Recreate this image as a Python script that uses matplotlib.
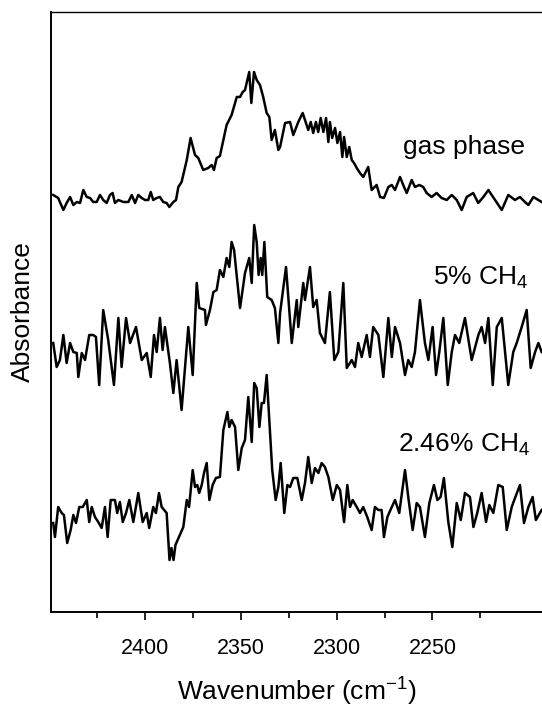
import matplotlib
matplotlib.use("Agg")
import numpy as np
import matplotlib.pyplot as plt

# spectra (wavenumber in cm-1, absorbance in arbitrary units,
# each trace relative to its own baseline offset)
gas_wn = [2447.9, 2445.3, 2442.6, 2440.9, 2439.1, 2437.4, 2435.6, 2433.9, 2432.2, 2430.4,
          2428.7, 2427.0, 2425.2, 2423.5, 2421.8, 2420.0, 2418.3, 2416.9, 2415.7, 2413.9,
          2411.3, 2408.7, 2406.9, 2405.2, 2403.5, 2401.7, 2400.0, 2398.3, 2397.0, 2395.7,
          2393.9, 2392.2, 2390.5, 2388.7, 2387.3, 2385.2, 2383.8, 2382.6, 2380.9, 2378.2,
          2376.2, 2373.9, 2372.2, 2369.6, 2367.0, 2365.2, 2364.0, 2362.6, 2360.9, 2359.1,
          2357.4, 2354.8, 2352.1, 2350.4, 2349.0, 2347.8, 2345.6, 2344.5, 2343.1, 2341.7,
          2340.0, 2338.3, 2336.5, 2335.1, 2333.9, 2332.2, 2330.4, 2329.5, 2326.9, 2324.3,
          2322.6, 2320.0, 2317.7, 2316.5, 2314.8, 2313.5, 2312.2, 2310.8, 2309.6, 2308.3,
          2306.9, 2305.5, 2304.3, 2303.5, 2302.3, 2300.8, 2299.6, 2298.2, 2297.0, 2296.1,
          2294.7, 2293.4, 2292.1, 2290.9, 2289.5, 2287.8, 2286.1, 2283.5, 2281.7, 2279.1,
          2277.3, 2275.3, 2273.0, 2271.2, 2269.5, 2266.9, 2264.8, 2263.4, 2260.8, 2259.1,
          2256.8, 2254.8, 2253.0, 2250.4, 2247.8, 2245.2, 2242.5, 2239.9, 2237.3, 2234.7,
          2232.1, 2228.7, 2226.1, 2223.4, 2220.8, 2217.3, 2213.8, 2210.4, 2206.9, 2204.3,
          2201.7, 2199.9, 2197.3, 2193.0]
gas_abs = [0.07, 0.04, -0.08, -0.01, 0.05, -0.03, 0.00, -0.01, 0.12, 0.05,
           0.04, 0.00, 0.00, 0.07, 0.02, -0.01, 0.07, 0.09, -0.01, 0.02,
           0.00, 0.00, 0.07, -0.01, 0.07, 0.04, 0.02, 0.02, 0.10, 0.02,
           0.04, 0.05, 0.00, -0.01, -0.05, 0.00, 0.02, 0.15, 0.20, 0.42,
           0.64, 0.47, 0.44, 0.32, 0.34, 0.37, 0.32, 0.44, 0.46, 0.62,
           0.77, 0.87, 1.05, 1.05, 1.10, 1.12, 1.30, 0.99, 1.30, 1.22,
           1.17, 1.05, 0.89, 0.85, 0.62, 0.72, 0.52, 0.55, 0.79, 0.80,
           0.67, 0.80, 0.89, 0.82, 0.72, 0.80, 0.69, 0.80, 0.70, 0.84,
           0.70, 0.84, 0.60, 0.80, 0.64, 0.74, 0.59, 0.70, 0.45, 0.65,
           0.45, 0.55, 0.42, 0.39, 0.34, 0.29, 0.25, 0.35, 0.12, 0.17,
           0.05, 0.04, 0.15, 0.17, 0.12, 0.25, 0.15, 0.09, 0.22, 0.15,
           0.17, 0.15, 0.09, 0.05, 0.09, 0.04, 0.02, 0.07, 0.02, -0.08,
           0.05, 0.09, -0.01, 0.05, 0.12, 0.02, -0.08, 0.07, 0.02, 0.05,
           0.00, -0.03, 0.05, 0.00]

ch4_5_wn = [2447.9, 2446.1, 2444.4, 2442.6, 2440.9, 2439.1, 2437.4, 2435.6, 2434.8, 2433.0,
            2431.3, 2429.1, 2427.0, 2425.6, 2423.9, 2421.8, 2419.2, 2416.2, 2413.9, 2412.2,
            2409.9, 2407.8, 2404.7, 2401.7, 2399.1, 2397.0, 2395.3, 2393.9, 2392.2, 2390.8,
            2389.6, 2387.0, 2385.2, 2383.5, 2380.9, 2377.4, 2375.1, 2373.0, 2371.7, 2368.7,
            2368.2, 2366.1, 2364.3, 2362.6, 2360.9, 2359.1, 2357.4, 2356.0, 2354.8, 2353.5,
            2350.4, 2347.8, 2345.6, 2344.3, 2343.0, 2341.7, 2340.7, 2339.6, 2338.8, 2337.7,
            2336.2, 2333.9, 2332.2, 2330.4, 2329.5, 2326.4, 2323.4, 2320.8, 2320.0, 2317.4,
            2316.5, 2313.9, 2312.2, 2310.4, 2308.7, 2306.1, 2303.5, 2301.2, 2299.1, 2296.5,
            2294.7, 2292.1, 2290.4, 2288.7, 2286.9, 2284.3, 2282.6, 2280.9, 2278.2, 2275.6,
            2273.0, 2271.2, 2269.5, 2266.9, 2264.3, 2262.6, 2260.8, 2259.1, 2256.5, 2253.9,
            2252.1, 2249.9, 2248.1, 2246.4, 2244.3, 2242.0, 2239.9, 2238.2, 2236.0, 2233.0,
            2229.5, 2226.0, 2224.3, 2222.5, 2220.8, 2218.5, 2216.4, 2213.8, 2210.4, 2207.8,
            2206.0, 2203.4, 2200.8, 2198.7, 2196.4, 2194.7, 2193.0]
ch4_5_abs = [-0.01, -0.25, -0.18, 0.07, -0.21, -0.01, -0.10, -0.11, -0.35, -0.11,
             -0.18, 0.07, 0.07, 0.05, -0.43, 0.32, 0.02, -0.43, 0.24, -0.25,
             0.24, -0.01, 0.15, -0.18, -0.11, -0.35, 0.07, -0.10, 0.24, -0.08,
             0.15, -0.21, -0.51, -0.18, -0.68, 0.15, -0.33, 0.59, 0.34, 0.32,
             0.17, 0.32, 0.50, 0.52, 0.72, 0.65, 0.84, 0.75, 1.00, 0.92,
             0.34, 0.69, 0.84, 0.59, 1.17, 1.00, 0.67, 0.84, 0.67, 1.00,
             0.45, 0.42, 0.34, -0.01, 0.29, 0.75, -0.01, 0.42, 0.15, 0.59,
             0.42, 0.75, 0.35, 0.42, 0.09, -0.01, 0.50, -0.18, -0.10, 0.59,
             -0.26, -0.18, -0.25, -0.01, -0.15, 0.07, -0.15, 0.15, 0.07, -0.35,
             0.24, -0.15, 0.15, -0.01, -0.33, -0.18, -0.25, -0.10, 0.42, -0.01,
             -0.18, 0.15, -0.33, -0.10, 0.24, -0.43, -0.10, 0.07, -0.01, 0.24,
             -0.18, 0.07, 0.15, -0.01, 0.24, -0.43, 0.15, 0.24, -0.43, -0.10,
             -0.01, 0.15, 0.32, -0.26, -0.10, -0.01, -0.10]

ch4_246_wn = [2447.9, 2447.0, 2445.3, 2443.5, 2442.3, 2440.6, 2438.8, 2437.4, 2436.0, 2434.3,
              2432.5, 2430.4, 2429.1, 2427.8, 2426.1, 2424.4, 2422.6, 2420.9, 2419.5, 2417.9,
              2415.7, 2414.5, 2413.1, 2411.6, 2409.9, 2408.2, 2406.1, 2403.5, 2401.2, 2399.1,
              2397.8, 2395.7, 2394.3, 2392.7, 2391.3, 2388.7, 2387.7, 2387.2, 2386.2, 2385.1,
              2384.1, 2380.0, 2378.2, 2377.0, 2375.1, 2373.9, 2372.7, 2371.7, 2370.4, 2369.2,
              2367.8, 2366.4, 2364.7, 2363.0, 2360.9, 2359.1, 2357.0, 2356.0, 2354.8, 2353.0,
              2351.3, 2349.5, 2347.8, 2346.1, 2344.3, 2343.0, 2341.7, 2340.3, 2339.1, 2337.9,
              2336.5, 2333.6, 2331.8, 2330.4, 2329.2, 2327.3, 2325.7, 2324.3, 2322.6, 2320.5,
              2318.2, 2316.5, 2314.8, 2313.0, 2311.3, 2309.5, 2307.8, 2306.1, 2304.3, 2302.0,
              2299.9, 2298.2, 2296.1, 2294.4, 2293.0, 2291.6, 2289.5, 2287.8, 2286.1, 2284.0,
              2281.7, 2280.0, 2278.2, 2276.5, 2275.3, 2273.5, 2271.2, 2269.5, 2267.3, 2264.3,
              2262.6, 2260.3, 2258.2, 2256.5, 2253.9, 2251.6, 2249.2, 2247.4, 2245.7, 2244.0,
              2241.7, 2239.6, 2237.3, 2235.2, 2233.0, 2230.4, 2228.6, 2226.6, 2224.3, 2222.0,
              2220.3, 2218.2, 2215.6, 2213.3, 2211.2, 2208.6, 2206.9, 2204.3, 2202.2, 2199.9,
              2197.7, 2196.0, 2193.0]
ch4_246_abs = [-0.16, -0.30, 0.00, -0.06, -0.08, -0.36, -0.23, -0.08, -0.16, 0.00,
               0.00, 0.07, -0.15, 0.00, -0.10, -0.15, -0.21, 0.00, -0.30, 0.07,
               0.07, -0.06, 0.05, -0.15, -0.06, 0.07, -0.15, 0.14, -0.15, -0.06,
               -0.21, 0.00, -0.06, 0.14, 0.00, -0.06, -0.38, -0.53, -0.41, -0.53,
               -0.38, -0.20, 0.07, 0.00, 0.37, 0.20, 0.22, 0.14, 0.22, 0.34,
               0.44, 0.07, 0.22, 0.29, 0.30, 0.77, 0.95, 0.80, 0.87, 0.80,
               0.37, 0.59, 0.67, 1.10, 0.65, 1.24, 1.19, 0.80, 1.04, 1.04,
               1.32, 0.37, 0.07, 0.20, 0.44, -0.06, 0.22, 0.20, 0.29, 0.29,
               0.07, 0.24, 0.50, 0.24, 0.39, 0.34, 0.44, 0.40, 0.30, 0.07,
               0.22, 0.17, -0.15, 0.22, 0.00, 0.07, 0.00, -0.06, 0.00, -0.10,
               -0.23, 0.00, -0.03, -0.03, -0.30, -0.10, 0.00, 0.07, -0.06, 0.37,
               0.10, -0.23, 0.04, 0.00, -0.30, 0.04, 0.22, 0.07, 0.10, 0.29,
               -0.15, -0.40, 0.04, -0.13, 0.14, 0.10, -0.20, -0.06, 0.14, -0.15,
               0.02, -0.06, 0.22, 0.20, -0.23, 0.00, 0.09, 0.22, -0.16, 0.00,
               0.10, -0.13, -0.03]

labels = ["gas phase", "5% CH$_4$", "2.46% CH$_4$"]
offsets = [4.10, 2.70, 1.05]
label_pos = [(2265.3, 4.65), (2249.7, 3.34), (2267.9, 1.67)]
major_ticks = [2400, 2350, 2300, 2250]
minor_ticks = [2425, 2375, 2325, 2275, 2225]

plt.rcParams['font.family'] = ['Liberation Sans', 'DejaVu Sans']
plt.rcParams['mathtext.default'] = 'regular'

fig = plt.figure(figsize=(5.42, 7.09), dpi=100)
ax = fig.add_axes([0.095, 0.1368, 0.905, 0.8463])

series = [(gas_wn, gas_abs), (ch4_5_wn, ch4_5_abs), (ch4_246_wn, ch4_246_abs)]
for (wn, ab), off, lab, pos in zip(series, offsets, labels, label_pos):
    ax.plot(wn, np.array(ab) + off, color='black', lw=1.8)
    ax.text(pos[0], pos[1], lab, fontsize=19, ha='left', va='center')

ax.set_xlim(2448.8, 2192.8)
ax.set_ylim(0, 6.0)
ax.set_xticks(major_ticks)
ax.set_xticks(minor_ticks, minor=True)
ax.set_yticks([])
ax.tick_params(axis='x', which='major', direction='out', length=6, width=1.2,
               labelsize=15.5, pad=12.5, top=False)
ax.tick_params(axis='x', which='minor', direction='out', length=4.5, width=1.2, top=False)
for side in ['left', 'bottom']:
    ax.spines[side].set_linewidth(1.4)
ax.spines['top'].set_linewidth(1.0)
ax.spines['right'].set_visible(False)

ax.set_xlabel("Wavenumber (cm$^{-1}$)", fontsize=19, labelpad=12)
ax.set_ylabel("Absorbance", fontsize=19, labelpad=12)

fig.savefig("out.png", dpi=100)
